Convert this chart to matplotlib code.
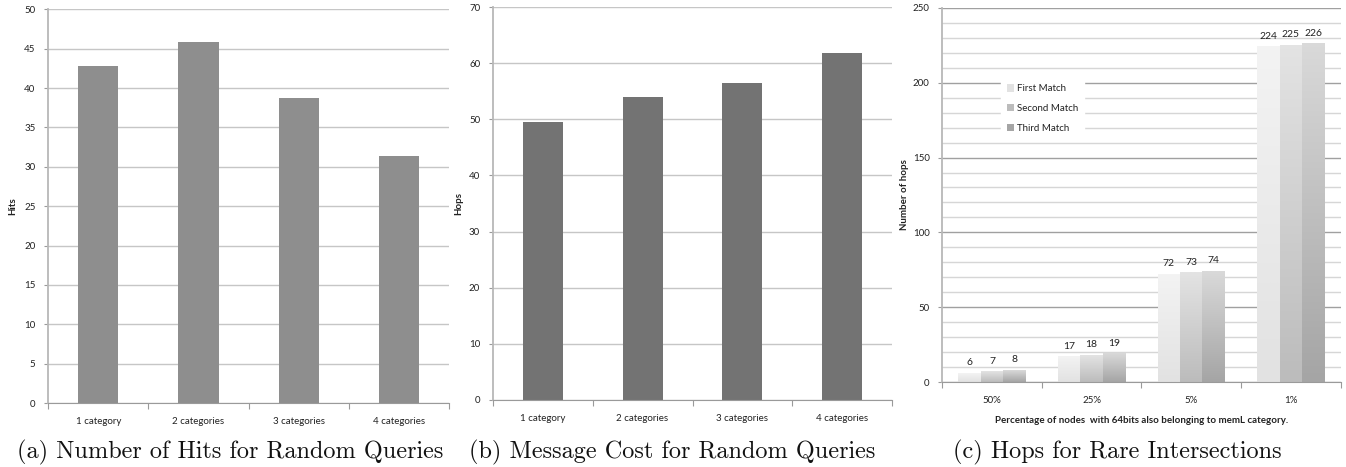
import numpy as np
import matplotlib
matplotlib.use("Agg")
import matplotlib.pyplot as plt
from matplotlib.colors import LinearSegmentedColormap
from matplotlib.patches import Patch

# ---- data ----
cats_ab = ["1 category", "2 categories", "3 categories", "4 categories"]
hits = [42.8, 45.9, 38.7, 31.4]
hops = [49.6, 54.0, 56.4, 61.8]

cats_c = ["50%", "25%", "5%", "1%"]
first_match = [6, 17, 72, 224]
second_match = [7, 18, 73, 225]
third_match = [8, 19, 74, 226]
series_names = ["First Match", "Second Match", "Third Match"]

captions = ["(a) Number of Hits for Random Queries",
            "(b) Message Cost for Random Queries",
            "(c) Hops for Rare Intersections"]

plt.rcParams['font.family'] = ['Lato', 'DejaVu Sans']
TXT = "#222222"

fig = plt.figure(figsize=(13.46, 4.67), dpi=100)

def style_axes(ax, ymax, step, gridcolor="#c6c6c6"):
    ax.set_xlim(-0.5, 3.5)
    ax.set_ylim(0, ymax)
    ax.set_yticks(np.arange(0, ymax + 0.01, step))
    ax.yaxis.grid(True, color=gridcolor, linewidth=1.0)
    ax.set_axisbelow(True)
    for s in ["top", "right"]:
        ax.spines[s].set_visible(False)
    ax.spines["left"].set_color("#b8b8b8")
    ax.spines["left"].set_linewidth(1.3)
    ax.spines["bottom"].set_color("#9a9a9a")
    ax.tick_params(axis="y", labelsize=7, colors="#9a9a9a", labelcolor=TXT,
                   length=3, width=0.8, pad=6)
    ax.set_xticks([0, 1, 2, 3])
    ax.set_xticks([-0.5, 0.5, 1.5, 2.5, 3.5], minor=True)
    ax.tick_params(axis="x", which="major", length=0, labelsize=7,
                   labelcolor=TXT, pad=10)
    ax.tick_params(axis="x", which="minor", length=4, width=0.8, colors="#9a9a9a")

# (a)
axa = fig.add_axes([0.0357, 0.137, 0.298, 0.843])
style_axes(axa, 50, 5)
axa.bar(range(4), hits, width=0.4, color="#8e8e8e", zorder=2)
axa.set_xticklabels(cats_ab)
axa.set_ylabel("Hits", fontsize=7, fontweight="bold", color=TXT, labelpad=5)

# (b)
axb = fig.add_axes([0.366, 0.1435, 0.297, 0.8415])
style_axes(axb, 70, 10)
axb.bar(range(4), hops, width=0.4, color="#737373", zorder=2)
axb.set_xticklabels(cats_ab)
axb.set_ylabel("Hops", fontsize=7, fontweight="bold", color=TXT, labelpad=4)

# (c)
axc = fig.add_axes([0.700, 0.182, 0.296, 0.801])
style_axes(axc, 250, 50, gridcolor="#a0a0a0")
axc.set_yticks(np.arange(0, 251, 10), minor=True)
axc.yaxis.grid(True, which="minor", color="#d6d6d6", linewidth=1.0)
axc.tick_params(axis="y", which="minor", length=0)
axc.set_xticklabels(cats_c)
axc.set_ylabel("Number of hops", fontsize=7, fontweight="bold", color=TXT, labelpad=3)
axc.set_xlabel("Percentage of nodes  with 64bits also belonging to memL category.",
               fontsize=7, fontweight="bold", color=TXT, labelpad=8)

grads = [("#f3f3f3", "#e2e2e2"), ("#e3e3e3", "#bcbcbc"), ("#d9d9d9", "#a5a5a5")]
bw = 0.225
xs = np.arange(4)
for k, vals in enumerate([first_match, second_match, third_match]):
    cmap = LinearSegmentedColormap.from_list("g%d" % k, [grads[k][1], grads[k][0]])
    offs = (k - 1) * bw
    for i, v in enumerate(vals):
        x0 = xs[i] + offs - bw / 2
        grad = np.linspace(0, 1, 64).reshape(-1, 1)
        axc.imshow(grad, extent=[x0, x0 + bw, 0, v], origin="lower", cmap=cmap,
                   aspect="auto", zorder=2, interpolation="bilinear")
        axc.text(xs[i] + offs, v + 4, str(v), ha="center", va="bottom",
                 fontsize=7.5, color=TXT, zorder=3)
axc.set_xlim(-0.5, 3.5)
axc.set_ylim(0, 250)

handles = [Patch(facecolor=grads[k][1], edgecolor="none") for k in range(3)]
leg = axc.legend(handles, series_names, loc="upper left",
                 bbox_to_anchor=(0.135, 0.825), fontsize=7, frameon=True,
                 handlelength=0.8, handleheight=0.8, handletextpad=0.3,
                 labelspacing=1.1, borderpad=0.6)
leg.get_frame().set_edgecolor("white")
leg.get_frame().set_facecolor("white")
leg.get_frame().set_alpha(1.0)
for t in leg.get_texts():
    t.set_color(TXT)

# captions
cap_x = [0.171, 0.4995, 0.830]
for x, c in zip(cap_x, captions):
    fig.text(x, 0.018, c, ha="center", va="baseline", fontsize=17.5,
             family=["cmr10", "DejaVu Serif"], color="#111111")

fig.savefig("out.png", dpi=100, facecolor="white")
